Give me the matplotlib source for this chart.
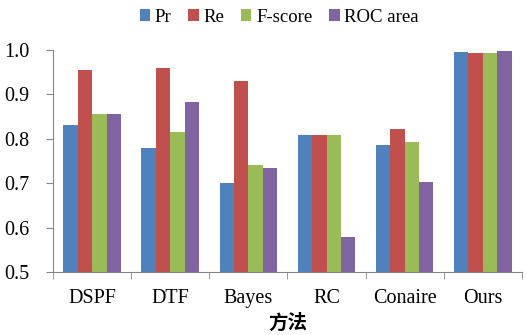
import numpy as np
import matplotlib
matplotlib.use("Agg")
import matplotlib.pyplot as plt
from matplotlib.ticker import FixedLocator

methods = ["DSPF", "DTF", "Bayes", "RC", "Conaire", "Ours"]
series_names = ["Pr", "Re", "F-score", "ROC area"]
pr = [0.830, 0.780, 0.700, 0.809, 0.785, 0.996]
re = [0.954, 0.959, 0.931, 0.809, 0.822, 0.993]
fscore = [0.855, 0.816, 0.741, 0.809, 0.793, 0.993]
roc = [0.855, 0.882, 0.734, 0.578, 0.702, 0.998]
colors = ["#4F81BD", "#C0504D", "#9BBB59", "#8064A2"]

plt.rcParams['font.family'] = ['Liberation Serif', 'DejaVu Serif']

fig = plt.figure(figsize=(5.27, 3.35), dpi=100)
ax = fig.add_axes([0.101, 0.188, 0.889, 0.663])

x = np.arange(len(methods))
w = 0.185
for i, (vals, name) in enumerate(zip([pr, re, fscore, roc], series_names)):
    ax.bar(x + (i - 1.5) * w, np.array(vals) - 0.5, w, bottom=0.5,
           color=colors[i], label=name)

ax.set_xlim(-0.5, len(methods) - 0.5)
ax.set_ylim(0.5, 1.0)
ax.set_yticks([0.5, 0.6, 0.7, 0.8, 0.9, 1.0])
ax.set_yticklabels(["0.5", "0.6", "0.7", "0.8", "0.9", "1.0"], fontsize=14.5)
ax.set_xticks(x)
ax.set_xticklabels(methods, fontsize=14.5)
ax.tick_params(axis='x', which='major', length=0, pad=12)
ax.xaxis.set_minor_locator(FixedLocator(np.arange(-0.5, len(methods), 1.0)))
ax.tick_params(axis='x', which='minor', length=5, color='#868686')
ax.tick_params(axis='y', length=5, color='#868686', pad=12)

for s in ['top', 'right']:
    ax.spines[s].set_visible(False)
for s in ['left', 'bottom']:
    ax.spines[s].set_color('#868686')

ax.set_xlabel("方法", fontsize=14, fontweight='bold',
              family=['Noto Sans CJK SC'], labelpad=4)

fig.legend(loc='upper center', bbox_to_anchor=(0.53, 1.025), ncol=4,
           frameon=False, fontsize=13.5, handlelength=0.55, handleheight=0.55,
           handletextpad=0.25, columnspacing=0.9)

fig.savefig("out.png", dpi=100)
